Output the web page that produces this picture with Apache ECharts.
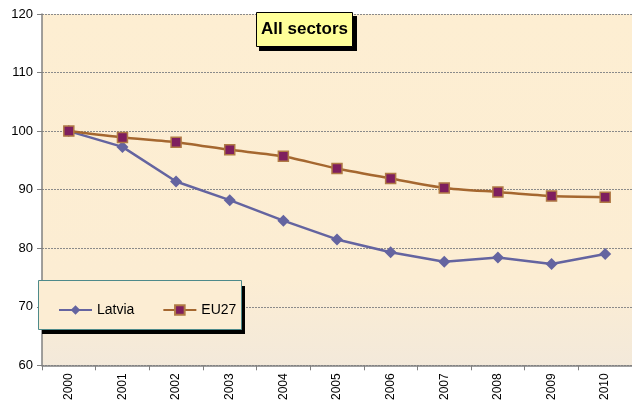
<!DOCTYPE html>
<html>
<head>
<meta charset="utf-8">
<script src="https://cdn.jsdelivr.net/npm/echarts@6/dist/echarts.min.js"></script>
<style>
  html, body { margin: 0; padding: 0; background: #fff; }
  #chart { width: 632px; height: 403px; }
</style>
</head>
<body>
<div id="chart"></div>
<script>
const years = ["2000", "2001", "2002", "2003", "2004", "2005", "2006", "2007", "2008", "2009", "2010"];
const latvia = [100, 97.3, 91.4, 88.2, 84.7, 81.5, 79.3, 77.7, 78.4, 77.3, 79.0];
const eu27 = [100, 98.9, 98.1, 96.8, 95.7, 93.6, 91.9, 90.3, 89.6, 88.9, 88.7];

const myChart = echarts.init(document.getElementById("chart"));

myChart.setOption({
  animation: false,
  textStyle: { fontFamily: "Liberation Sans, Arial, sans-serif" },
  grid: {
    left: 42,
    right: -5,
    top: 14,
    bottom: 37,
    show: true,
    borderWidth: 0,
    backgroundColor: {
      type: "linear", x: 0, y: 0, x2: 0, y2: 1,
      colorStops: [
        { offset: 0, color: "#FDEED2" },
        { offset: 0.75, color: "#FCEDD3" },
        { offset: 1, color: "#F3E9DA" },
      ],
    },
  },
  xAxis: {
    type: "category",
    data: years,
    boundaryGap: true,
    axisLine: { lineStyle: { color: "#808080", width: 1.5 } },
    axisTick: { show: true, length: 5, lineStyle: { color: "#808080" } },
    axisLabel: { rotate: 90, color: "#000", fontSize: 12, margin: 8 },
  },
  yAxis: {
    type: "value",
    min: 60,
    max: 120,
    interval: 10,
    axisLine: { show: true, lineStyle: { color: "#808080", width: 1.5 } },
    axisTick: { show: true, length: 5, lineStyle: { color: "#808080" } },
    axisLabel: { color: "#000", fontSize: 13, margin: 9 },
    splitLine: { lineStyle: { color: "#8a8a8a", type: [2, 1], width: 1 } },
  },
  legend: {
    left: 53,
    top: 298,
    itemGap: 28,
    itemWidth: 33,
    itemHeight: 12,
    textStyle: { fontSize: 14, color: "#000" },
    data: ["Latvia", "EU27"],
  },
  graphic: [
    { type: "rect", shape: { x: 42, y: 286, width: 203, height: 48 }, style: { fill: "#000" }, z: 1 },
    { type: "rect", shape: { x: 38.5, y: 280.5, width: 203, height: 49 }, style: { fill: "#FCEDD3", stroke: "#4E8A8A", lineWidth: 1 }, z: 2 },
    { type: "rect", shape: { x: 259, y: 16, width: 98, height: 35 }, style: { fill: "#000" }, z: 5 },
    { type: "rect", shape: { x: 256.5, y: 12.5, width: 96, height: 34 }, style: { fill: "#FFFF99", stroke: "#000", lineWidth: 1 }, z: 6 },
    {
      type: "text", x: 304.5, y: 29.5, z: 7,
      style: { text: "All sectors", fill: "#000", font: "bold 17px Liberation Sans, Arial, sans-serif", textAlign: "center", textVerticalAlign: "middle" },
    },
  ],
  series: [
    {
      name: "Latvia",
      type: "line",
      data: latvia,
      z: 3,
      symbol: "diamond",
      symbolSize: 12,
      lineStyle: { color: "#6464A0", width: 2.5 },
      itemStyle: { color: "#6464A0" },
    },
    {
      name: "EU27",
      type: "line",
      data: eu27,
      z: 4,
      smooth: 0.2,
      symbol: "rect",
      symbolSize: 10,
      lineStyle: { color: "#A5672F", width: 2.5 },
      itemStyle: { color: "#7E1E5E", borderColor: "#B07A45", borderWidth: 1.5 },
    },
  ],
});
</script>
</body>
</html>
